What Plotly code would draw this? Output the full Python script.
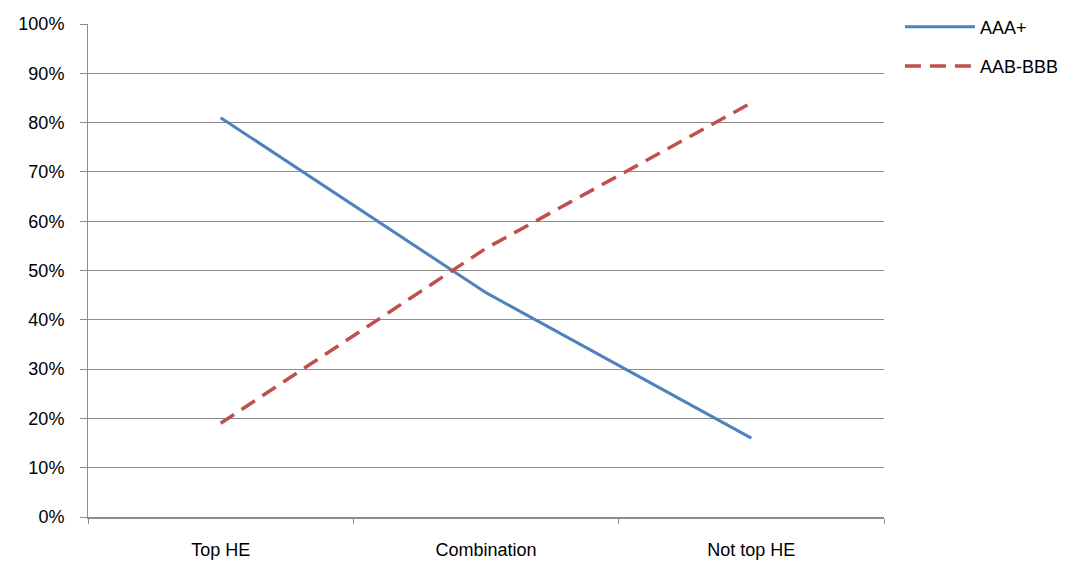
import plotly.graph_objects as go

categories = ["Top HE", "Combination", "Not top HE"]
aaa_plus = [0.81, 0.455, 0.16]
aab_bbb = [0.19, 0.545, 0.84]
y_ticks = [i / 10 for i in range(11)]
y_tick_labels = [f"{i*10}%" for i in range(11)]

font = dict(family="Liberation Sans, Arial, sans-serif", size=18, color="black")

fig = go.Figure()
fig.add_trace(go.Scatter(x=categories, y=aaa_plus, mode="lines", name="AAA+",
                         legendgroup="a",
                         line=dict(color="#4F81BD", width=3)))
fig.add_trace(go.Scatter(x=categories, y=aab_bbb, mode="lines", name="AAB-BBB",
                         legendgroup="b",
                         line=dict(color="#C0504D", width=3.5, dash="16px,9px")))

fig.update_layout(
    width=1077, height=562,
    margin=dict(l=88, r=193, t=24, b=45, autoexpand=False),
    paper_bgcolor="white", plot_bgcolor="white",
    font=font,
    showlegend=True,
    legend=dict(x=1.02, y=0.985, xanchor="left", yanchor="top",
                yref="container",
                font=font, itemwidth=70, tracegroupgap=13,
                bgcolor="rgba(0,0,0,0)"),
)
fig.update_yaxes(range=[0, 1], tickvals=y_ticks, ticktext=y_tick_labels,
                 showgrid=True, gridcolor="#8c8c8c", gridwidth=1,
                 showline=True, linecolor="#8c8c8c", linewidth=1,
                 ticks="outside", ticklen=7, tickcolor="#8c8c8c",
                 ticklabelstandoff=12, zeroline=False, fixedrange=True,
                 automargin=False)
fig.update_xaxes(range=[-0.5, 2.5], showgrid=False,
                 showline=True, linecolor="#8c8c8c", linewidth=2,
                 ticks="outside", tickson="boundaries", ticklen=5,
                 tickcolor="#8c8c8c", ticklabelstandoff=15, fixedrange=True,
                 automargin=False)

fig.write_html("out.html")
